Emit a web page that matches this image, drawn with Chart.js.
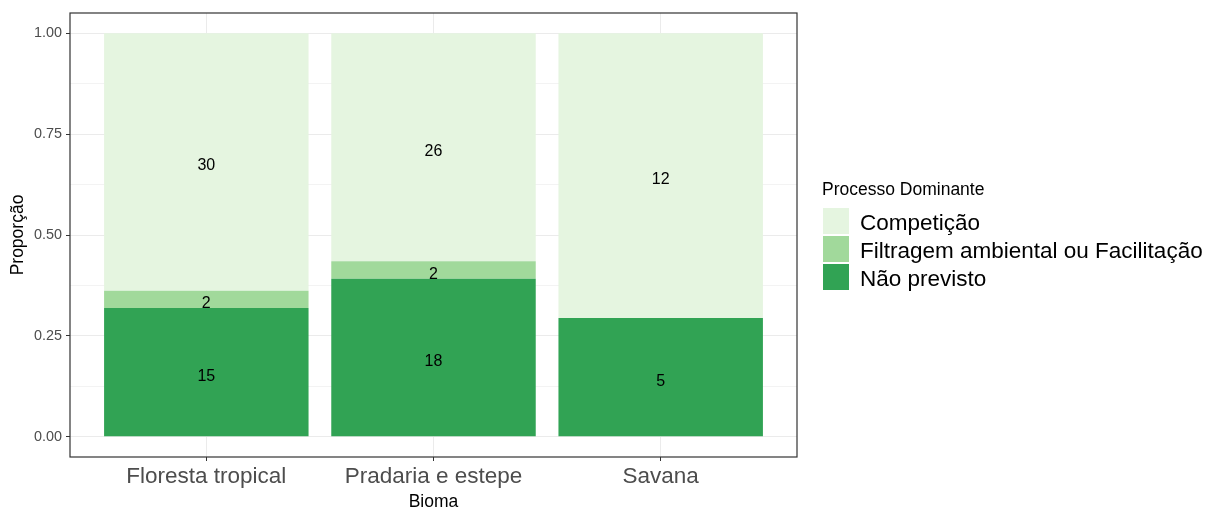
<!DOCTYPE html>
<html lang="pt">
<head>
<meta charset="UTF-8">
<title>Processo Dominante por Bioma</title>
<script src="https://cdn.jsdelivr.net/npm/chart.js"></script>
<style>
    html, body { margin: 0; padding: 0; background: #ffffff; }
    canvas { display: block; }
</style>
</head>
<body>
<canvas id="grafico" width="1205" height="508"></canvas>
<script>
// contagens por bioma
const biomas = ['Floresta tropical', 'Pradaria e estepe', 'Savana'];
const naoPrevisto = [15, 18, 5];
const filtragem = [2, 2, 0];
const competicao = [30, 26, 12];

const processos = ['Não previsto', 'Filtragem ambiental ou Facilitação', 'Competição'];
const cores = ['#31a354', '#a1d99b', '#e5f5e0'];

// ticks do eixo y: principais com rótulo, secundários sem
const ticksY = [0, 0.125, 0.25, 0.375, 0.5, 0.625, 0.75, 0.875, 1];
const rotulosY = ['0.00', '', '0.25', '', '0.50', '', '0.75', '', '1.00'];

const contagens = [naoPrevisto, filtragem, competicao];
const totais = biomas.map((b, i) => naoPrevisto[i] + filtragem[i] + competicao[i]);

const fonte = "'Liberation Sans', Arial, sans-serif";

// rótulos de contagem no meio de cada segmento
const rotulosBarras = {
    id: 'rotulosBarras',
    afterDatasetsDraw(chart) {
        const ctx = chart.ctx;
        ctx.save();
        ctx.font = '16px ' + fonte;
        ctx.fillStyle = '#000000';
        ctx.textAlign = 'center';
        ctx.textBaseline = 'middle';
        chart.data.datasets.forEach((ds, d) => {
            chart.getDatasetMeta(d).data.forEach((bar, i) => {
                const n = contagens[d][i];
                if (n > 0) ctx.fillText(String(n), bar.x, (bar.y + bar.base) / 2 + 4);
            });
        });
        ctx.restore();
    }
};

// borda do painel (theme_bw) e legenda à direita
const painelELegenda = {
    id: 'painelELegenda',
    afterDraw(chart) {
        const ctx = chart.ctx;
        const a = chart.chartArea;
        ctx.save();
        ctx.strokeStyle = '#333333';
        ctx.lineWidth = 1.2;
        ctx.strokeRect(a.left, a.top, a.right - a.left, a.bottom - a.top);

        const x0 = a.right + 26;
        ctx.fillStyle = '#000000';
        ctx.font = '17.5px ' + fonte;
        ctx.textBaseline = 'middle';
        ctx.textAlign = 'left';
        ctx.fillText('Processo Dominante', x0 - 1, 190);

        const itens = chart.data.datasets.slice().reverse();
        itens.forEach((ds, k) => {
            const y = 208 + k * 28;
            ctx.fillStyle = ds.backgroundColor;
            ctx.fillRect(x0, y, 26, 26);
            ctx.fillStyle = '#000000';
            ctx.font = '22.5px ' + fonte;
            ctx.fillText(ds.label, x0 + 37, y + 15.5);
        });
        ctx.restore();
    }
};

const datasets = processos.map((p, d) => ({
    label: p,
    data: biomas.map((b, i) => ({ x: i + 1, y: contagens[d][i] / totais[i] })),
    backgroundColor: cores[d],
    borderWidth: 0,
    barPercentage: 0.9,
    categoryPercentage: 1.0
}));

new Chart(document.getElementById('grafico'), {
    type: 'bar',
    data: { datasets: datasets },
    options: {
        responsive: false,
        animation: false,
        layout: { padding: { left: 0, right: 408, top: 13, bottom: 0 } },
        plugins: {
            legend: { display: false },
            tooltip: { enabled: false }
        },
        scales: {
            x: {
                type: 'linear',
                stacked: true,
                offset: false,
                min: 0.4,
                max: 3.6,
                afterBuildTicks(scale) {
                    scale.ticks = biomas.map((b, i) => ({ value: i + 1 }));
                },
                afterFit(scale) { scale.height = 51; },
                border: { display: false },
                grid: {
                    offset: false,
                    color: '#ebebeb',
                    lineWidth: 1,
                    tickColor: '#333333',
                    tickLength: 4
                },
                ticks: {
                    padding: 2,
                    color: '#4d4d4d',
                    font: { family: fonte, size: 22.5 },
                    maxRotation: 0,
                    autoSkip: false,
                    callback: (v) => biomas[v - 1]
                },
                title: {
                    display: true,
                    text: 'Bioma',
                    color: '#000000',
                    font: { family: fonte, size: 17.5, lineHeight: 1 },
                    padding: { top: 0, bottom: -3 }
                }
            },
            y: {
                stacked: true,
                min: -0.05,
                max: 1.05,
                afterBuildTicks(scale) {
                    scale.ticks = ticksY.map(v => ({ value: v }));
                },
                afterFit(scale) { scale.width = 70; },
                border: { display: false },
                grid: {
                    color: '#ebebeb',
                    lineWidth: (c) => (c.index % 2 === 0 ? 1 : 0.6),
                    tickColor: (c) => (c.index % 2 === 0 ? '#333333' : 'rgba(0,0,0,0)'),
                    tickLength: 4
                },
                ticks: {
                    padding: 4,
                    color: '#4d4d4d',
                    font: { family: fonte, size: 14.4 },
                    callback: (v, i) => rotulosY[i]
                },
                title: {
                    display: true,
                    text: 'Proporção',
                    color: '#000000',
                    font: { family: fonte, size: 17.5, lineHeight: 1 },
                    padding: { top: 9.5, bottom: 0 }
                }
            }
        }
    },
    plugins: [rotulosBarras, painelELegenda]
});
</script>
</body>
</html>
